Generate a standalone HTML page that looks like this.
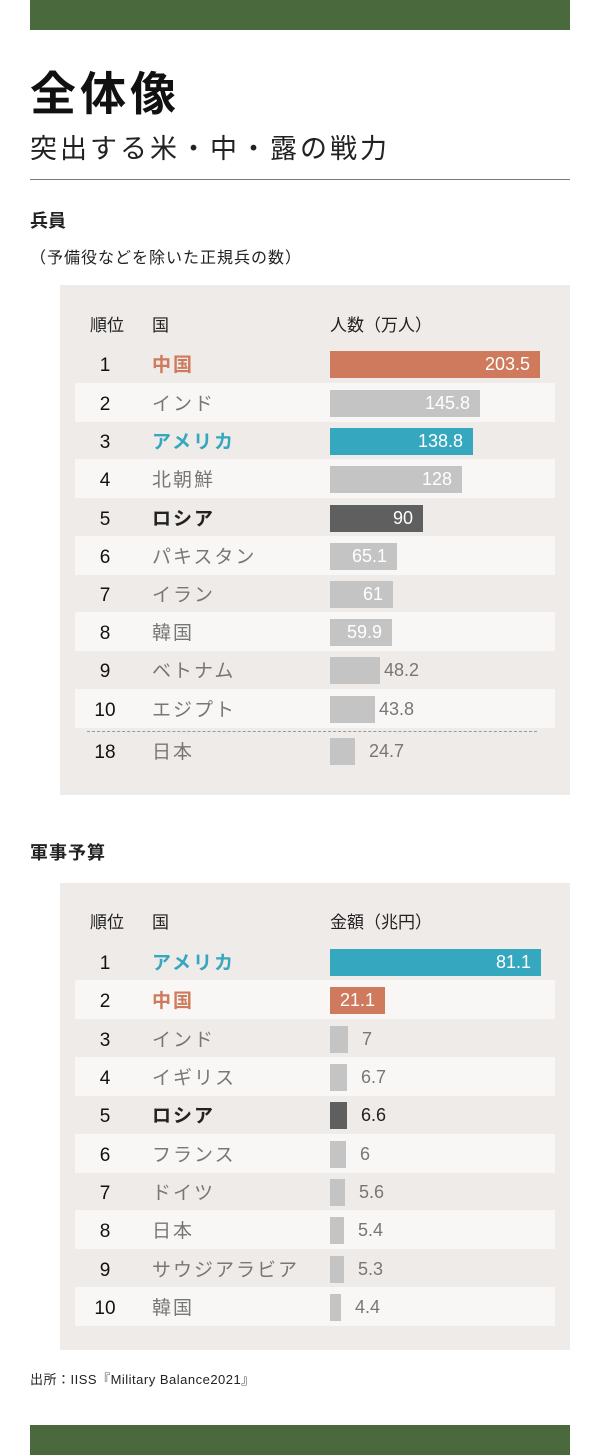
<!DOCTYPE html>
<html><head><meta charset="utf-8"><style>
*{margin:0;padding:0;box-sizing:border-box}
body{width:600px;height:1455px;background:#fff;position:relative;font-family:"Liberation Sans","Noto Sans CJK JP",sans-serif;color:#222;overflow:hidden}
.a{position:absolute;white-space:nowrap}
.g{position:absolute;left:30px;width:540px;height:30px;background:#4a6a3e}
.panel{position:absolute;left:60px;width:510px;background:#efebe8}
.stripe{position:absolute;left:75px;width:480px;height:39px;background:#f8f7f5}
.rk{position:absolute;width:50px;left:80px;text-align:center;font-size:19px;color:#111;line-height:20px}
.cn{position:absolute;left:152px;font-size:19px;color:#777;line-height:20px;letter-spacing:2px}
.bar{position:absolute;left:330px;height:27px;background:#c4c4c4}
.vi{position:absolute;font-size:18px;color:#fff;line-height:20px;text-align:right}
.vo{position:absolute;font-size:18px;color:#777;line-height:20px}
.hd{position:absolute;font-size:17px;color:#222;line-height:20px}
</style></head><body>
<div class="g" style="top:0"></div>
<div class="a" style="left:30px;top:58px;font-size:46px;font-weight:bold;color:#111;letter-spacing:4px">全体像</div>
<div class="a" style="left:30px;top:127px;font-size:27px;color:#222;letter-spacing:3px">突出する米・中・露の戦力</div>
<div class="a" style="left:30px;top:179px;width:540px;height:1px;background:#777"></div>
<div class="a" style="left:30px;top:207px;font-size:18px;font-weight:bold">兵員</div>
<div class="a" style="left:30px;top:244px;font-size:16px;letter-spacing:1px">（予備役などを除いた正規兵の数）</div>
<div class="panel" style="top:285px;height:510px"></div>
<div class="a" style="left:30px;top:839px;font-size:18px;font-weight:bold;letter-spacing:1px">軍事予算</div>
<div class="panel" style="top:883px;height:467px"></div>
<div class="a" style="left:30px;top:1369px;font-size:13px;color:#222;letter-spacing:0.5px">出所：IISS『Military Balance2021』</div>
<div class="g" style="top:1425px"></div>
<div id="c"></div>
<script>
const c=document.getElementById('c');let h='';
function tbl(hy,rows,head,scale){
 h+=`<div class="hd" style="left:90px;top:${hy-10}px">順位</div><div class="hd" style="left:152px;top:${hy-10}px">国</div><div class="hd" style="left:330px;top:${hy-10}px">${head}</div>`;
 rows.forEach((r,i)=>{const y=r[5];
  if(r[4])h+=`<div class="stripe" style="top:${y-20}px"></div>`;
 });
 rows.forEach(r=>{const [rk,name,val,col,st,y]=r;const w=Math.round(val*scale);
  const bc=col=='o'?'#cf7a5c':col=='b'?'#35a7bf':col=='d'?'#5f5f5f':'#c4c4c4';
  const nc=col=='o'?'#cf7a5c':col=='b'?'#35a7bf':col=='d'?'#222':'#777';
  const fw=col?'bold':'normal';
  h+=`<div class="rk" style="top:${y-8}px">${rk}</div><div class="cn" style="top:${y-8}px;color:${nc};font-weight:${fw}">${name}</div><div class="bar" style="top:${y-13}px;width:${w}px;background:${bc}"></div>`;
  if(w>=54)h+=`<div class="vi" style="left:330px;width:${w-10}px;top:${y-10}px">${val}</div>`;
  else h+=`<div class="vo" style="left:${330+w+(w<30?14:4)}px;top:${y-10}px;${col=='d'?'color:#222':''}">${val}</div>`;
 });
}
tbl(326,[[1,'中国',203.5,'o',0,364],[2,'インド',145.8,'',1,403],[3,'アメリカ',138.8,'b',0,441],[4,'北朝鮮',128,'',1,479],[5,'ロシア',90,'d',0,518],[6,'パキスタン',65.1,'',1,556],[7,'イラン',61,'',0,594],[8,'韓国',59.9,'',1,632],[9,'ベトナム',48.2,'',0,670],[10,'エジプト',43.8,'',1,709],[18,'日本',24.7,'',0,751]],'人数（万人）',1.032);
h+=`<div class="a" style="left:87px;top:731px;width:450px;border-top:1px dashed #999"></div>`;
tbl(923,[[1,'アメリカ',81.1,'b',0,962],[2,'中国',21.1,'o',1,1000],[3,'インド',7,'',0,1039],[4,'イギリス',6.7,'',1,1077],[5,'ロシア',6.6,'d',0,1115],[6,'フランス',6,'',1,1154],[7,'ドイツ',5.6,'',0,1192],[8,'日本',5.4,'',1,1230],[9,'サウジアラビア',5.3,'',0,1269],[10,'韓国',4.4,'',1,1307]],'金額（兆円）',2.6);
c.innerHTML=h;
</script>
</body></html>
